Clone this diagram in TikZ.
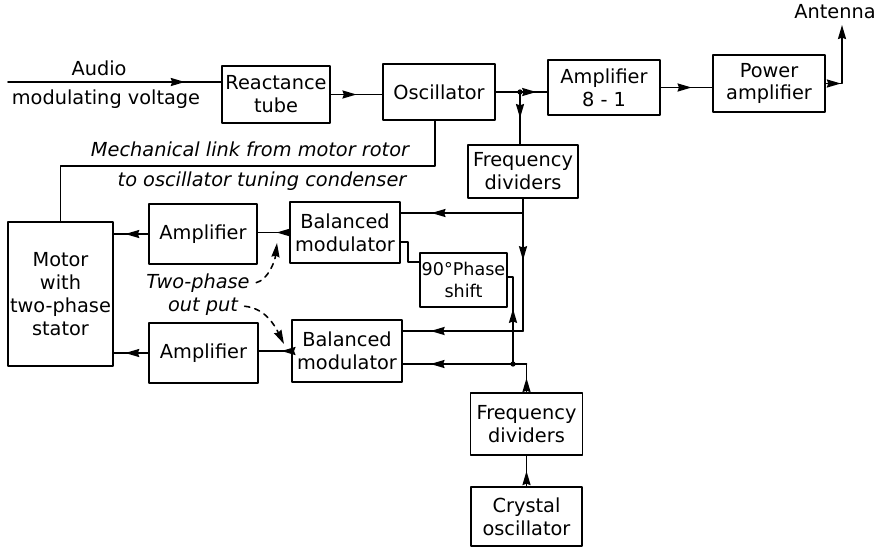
\documentclass[tikz,border=0pt]{standalone}
\usepackage{fontspec}
\setmainfont{DejaVu Sans}
\usetikzlibrary{arrows.meta,decorations.markings,calc}

\tikzset{
	blk/.style={draw,line width=1.1pt,align=center,inner sep=1pt,minimum width=2.2cm,minimum height=1.14cm},
	arr/.style={postaction={decorate},decoration={markings,mark=at position #1 with {\arrow{>}}}},
	arr/.default=0.5,
	lbl/.style={font=\fontsize{11}{13}\selectfont\itshape},
}

\begin{document}
\begin{tikzpicture}[x=0.02cm,y=-0.02cm,line width=0.9pt,line join=round,line cap=round,>={Stealth[length=8pt,width=4.6pt,inset=0.8pt]},font=\fontsize{11}{13}\selectfont]
				\useasboundingbox (0,0) rectangle (885,549);
				
				\node[blk,minimum width=2.16cm] (react) at (276,94.5) {Reactance\\tube};
				\node[blk,minimum width=2.24cm,minimum height=1.12cm] (osc) at (439,92) {Oscillator};
				\node[blk,minimum width=2.24cm,minimum height=1.1cm] (amp81) at (604,87.5) {Amplifier\\8 - 1};
				\node[blk,minimum width=2.24cm] (pamp) at (769,83.5) {Power\\amplifier};
				\node[blk,minimum height=1.06cm] (fdup) at (523,171.5) {Frequency\\dividers};
				
				\node[blk,minimum width=2.1cm,minimum height=2.88cm] (motor) at (60.5,294) {Motor\\with\\two-phase\\stator};
				\node[blk,minimum width=2.16cm,minimum height=1.2cm] (ampA) at (203,234) {Amplifier};
				\node[blk,minimum width=2.18cm,minimum height=1.2cm] (ampB) at (203.5,353) {Amplifier};
				\node[blk,minimum height=1.22cm] (balA) at (345,232.5) {Balanced\\modulator};
				\node[blk,minimum height=1.24cm] (balB) at (347,351) {Balanced\\modulator};
				\node[blk,minimum width=1.74cm,minimum height=1.08cm,font=\fontsize{10}{12.5}\selectfont] (phase) at (463.5,280) {90°Phase\\shift};
				\node[blk,minimum width=2.24cm,minimum height=1.24cm] (fdlo) at (526.5,424) {Frequency\\dividers};
				\node[blk,minimum width=2.22cm,minimum height=1.18cm] (xtal) at (526.5,516.5) {Crystal\\oscillator};
				
				\node[anchor=base] (audiolbl) at (99,75) {Audio};
				\node[anchor=base] (modlbl) at (106,104) {modulating voltage};
				\node[anchor=base] (antlbl) at (835,18) {Antenna};
				\node[lbl,anchor=base] (mech1) at (250,156) {Mechanical link from motor rotor};
				\node[lbl,anchor=base] (mech2) at (262,186) {to oscillator tuning condenser};
				\node[lbl,anchor=base] (tp1) at (198,288) {Two-phase};
				\node[lbl,anchor=base] (tp2) at (203,311) {out put};
				
				\coordinate (audio) at (8,82);
				\coordinate (j1) at (520,92);
				\coordinate (ant) at (842,25);
				\coordinate (jA) at (523,213);
				\coordinate (jB) at (523,331);
				\coordinate (jC) at (513,364);
				\coordinate (tipA) at (277,243);
				\coordinate (tipB) at (284,344);
				
				\draw[arr=0.83] (audio) -- (audio -| react.west);
				\draw[arr] (react.east) -- (react.east -| osc.west);
				\draw (osc.east) -- (j1);
				\fill (j1) circle (1.5pt);
				\draw[arr=0.6] (j1) -- (j1 -| amp81.west);
				\draw[arr] (j1) -- (j1 |- fdup.north);
				\draw[arr=0.6] (amp81.east) -- (amp81.east -| pamp.west);
				\draw[arr=0.2,->] (pamp.east) -| (ant);
				
				\draw ([xshift=-0.08cm]osc.south) -- ++(0,45) -| (motor.north);
				
				\draw (fdup.south) -- (jA);
				\draw[arr=0.75] (jA) -- (jA -| balA.east);
				\draw[arr=0.4] (jA) -- (jB);
				\draw[arr=0.77] (jB) -- (jB -| balB.east);
				
				\draw ($(balA.east)+(0,9.5)$) -- ++(7,0) |- ($(phase.west)+(0,-18)$);
				\draw[arr=0.6] (jC) |- ($(phase.east)+(0,-3)$);
				
				\draw[arr] (fdlo.north) -- (fdlo.north |- jC);
				\draw (fdlo.north |- jC) -- (jC);
				\draw[arr=0.75] (jC) -- (jC -| balB.east);
				\fill (jC) circle (1.5pt);
				\draw[arr] (xtal.north) -- (fdlo.south);
				
				\draw[arr=0.4] (balA.west) -- (balA.west -| ampA.east);
				\draw[arr=0.67] (ampA.west) -- (ampA.west -| motor.east);
				\draw[arr=0.3] (balB.west) -- (balB.west -| ampB.east);
				\draw[arr=0.67] (ampB.west) -- (ampB.west -| motor.east);
				
				\draw[dashed,->] (tp1.east) .. controls +(12,-3) and +(-2,18) .. (tipA);
				\draw[dashed,->] (tp2.east) .. controls +(20,2) and +(-10,-20) .. (tipB);
			\end{tikzpicture}
\end{document}
